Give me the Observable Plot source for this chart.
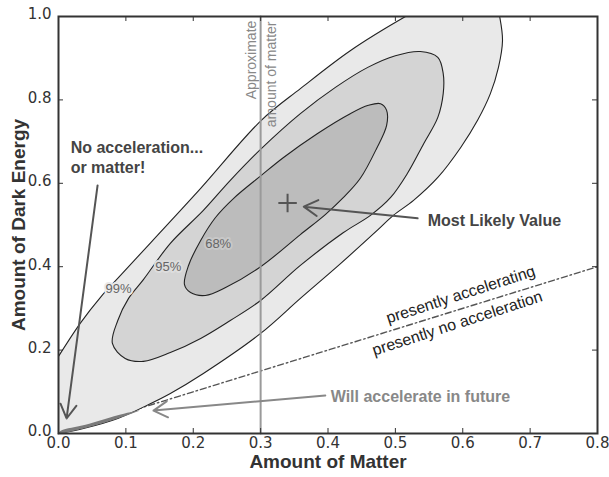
<!DOCTYPE html>
<html><head><meta charset="utf-8">
<script src="https://cdn.jsdelivr.net/npm/d3@7"></script>
<script src="https://cdn.jsdelivr.net/npm/@observablehq/plot@0.6"></script>
<style>body{margin:0;background:#fff}</style>
</head><body><div id="chart"></div>
<script>
const xTicks = [0, 0.1, 0.2, 0.3, 0.4, 0.5, 0.6, 0.7, 0.8];
const yTicks = [0, 0.2, 0.4, 0.6, 0.8, 1.0];

// 99% confidence contour (open path: starts on the y axis, ends at origin)
const contour99 = [
  [0.000,0.185],[0.033,0.266],[0.062,0.326],[0.092,0.379],[0.137,0.458],[0.211,0.588],
  [0.301,0.751],[0.359,0.827],[0.433,0.918],[0.515,1.000],[0.582,1.058],[0.626,1.072],
  [0.647,1.050],[0.655,0.998],[0.659,0.942],[0.653,0.878],[0.641,0.815],[0.622,0.751],
  [0.597,0.686],[0.563,0.614],[0.527,0.559],[0.497,0.523],[0.473,0.487],[0.419,0.408],
  [0.359,0.324],[0.300,0.240],[0.215,0.144],[0.166,0.096],[0.137,0.072],[0.088,0.036],
  [0.037,0.012],[0.000,0.000]
];
// 95% confidence contour (closed)
const contour95 = [
  [0.080,0.216],[0.088,0.271],[0.104,0.324],[0.126,0.369],[0.166,0.456],[0.215,0.535],
  [0.255,0.607],[0.301,0.683],[0.359,0.767],[0.411,0.830],[0.459,0.878],[0.500,0.906],
  [0.537,0.916],[0.563,0.902],[0.571,0.863],[0.571,0.815],[0.563,0.758],[0.542,0.695],
  [0.518,0.624],[0.493,0.566],[0.463,0.523],[0.423,0.482],[0.359,0.403],[0.300,0.319],
  [0.255,0.271],[0.211,0.228],[0.166,0.194],[0.126,0.173],[0.099,0.180]
];
// 68% confidence contour (closed)
const contour68 = [
  [0.187,0.357],[0.193,0.403],[0.211,0.463],[0.233,0.518],[0.260,0.564],[0.301,0.619],
  [0.334,0.662],[0.384,0.719],[0.433,0.767],[0.460,0.787],[0.478,0.791],[0.487,0.775],
  [0.487,0.739],[0.472,0.683],[0.448,0.612],[0.423,0.566],[0.396,0.525],[0.359,0.477],
  [0.300,0.400],[0.248,0.350],[0.218,0.331],[0.196,0.338]
];
// dark sliver near the origin ("will accelerate in future")
const sliver = [
  [0.000,0.000],[0.037,0.012],[0.088,0.036],[0.120,0.055],[0.088,0.044],[0.040,0.021],[0.004,0.007]
];
// boundary: accelerating vs not (Omega_L = Omega_M / 2)
const accelLine = [[0, 0], [0.8, 0.4]];
const matterLine = [[0.3, 0], [0.3, 1]];
const bestFit = [[0.34, 0.553]];

const contourLabels = [
  {x: 0.237, y: 0.456, t: "68%", halo: "#c8c8c8"},
  {x: 0.163, y: 0.400, t: "95%", halo: "#dddddd"},
  {x: 0.089, y: 0.348, t: "99%", halo: "#e9e9e9"}
];
const boldNotes = [
  {x: 0.018, y: 0.686, t: "No acceleration..."},
  {x: 0.018, y: 0.636, t: "or matter!"},
  {x: 0.548, y: 0.511, t: "Most Likely Value"}
];
const grayNotes = [{x: 0.404, y: 0.087, t: "Will accelerate in future"}];
const tiltNotes = [
  {x: 0.597, y: 0.333, t: "presently accelerating"},
  {x: 0.592, y: 0.264, t: "presently no acceleration"}
];
const vertNotes = [
  {x: 0.286, y: 0.990, t: "Approximate"},
  {x: 0.316, y: 0.988, t: "amount of matter"}
];
const darkArrows = [
  {x1: 0.058, y1: 0.595, x2: 0.012, y2: 0.036},
  {x1: 0.533, y1: 0.516, x2: 0.364, y2: 0.544}
];
const grayArrows = [{x1: 0.396, y1: 0.091, x2: 0.141, y2: 0.055}];

const W = 609, H = 477, mL = 58, mR = 12, mT = 16, mB = 44;
const pw = W - mL - mR, ph = H - mT - mB;
const sans = "Liberation Sans, Arial, sans-serif";

const chart = Plot.plot({
  width: W, height: H,
  marginLeft: mL, marginRight: mR, marginTop: mT, marginBottom: mB,
  style: {fontFamily: "DejaVu Sans, sans-serif", fontSize: "15px", color: "#333", background: "#fff"},
  x: {domain: [0, 0.8]},
  y: {domain: [0, 1]},
  marks: [
    Plot.line(accelLine, {x: d => d[0], y: d => d[1], stroke: "#555", strokeWidth: 1.4, strokeDasharray: "6,3,1.5,3"}),
    Plot.line(contour99, {x: d => d[0], y: d => d[1], fill: "#e9e9e9", stroke: "#222", strokeWidth: 1.1, curve: "catmull-rom", clip: true}),
    Plot.line(contour95, {x: d => d[0], y: d => d[1], fill: "#d4d4d4", stroke: "#222", strokeWidth: 1.1, curve: "catmull-rom-closed", clip: true}),
    Plot.line(contour68, {x: d => d[0], y: d => d[1], fill: "#bcbcbc", stroke: "#222", strokeWidth: 1.1, curve: "catmull-rom-closed", clip: true}),
    Plot.line(sliver, {x: d => d[0], y: d => d[1], fill: "#7a7a7a", stroke: "none", curve: "catmull-rom-closed", clip: true}),
    Plot.line(matterLine, {x: d => d[0], y: d => d[1], stroke: "#9a9a9a", strokeWidth: 2}),
    Plot.text(contourLabels, {x: "x", y: "y", text: "t", fill: "#666", stroke: "halo", strokeWidth: 4, fontSize: 13, fontFamily: sans}),
    Plot.text(vertNotes, {x: "x", y: "y", text: "t", rotate: -90, textAnchor: "end", fill: "#888", fontSize: 14, fontFamily: sans}),
    Plot.dot(bestFit, {x: d => d[0], y: d => d[1], symbol: "plus", r: 6, stroke: "#555", strokeWidth: 2}),
    Plot.arrow(darkArrows, {x1: "x1", y1: "y1", x2: "x2", y2: "y2", stroke: "#555", strokeWidth: 2, headLength: 12}),
    Plot.arrow(grayArrows, {x1: "x1", y1: "y1", x2: "x2", y2: "y2", stroke: "#888", strokeWidth: 2, headLength: 12}),
    Plot.text(boldNotes, {x: "x", y: "y", text: "t", textAnchor: "start", fill: "#444", fontWeight: "bold", fontSize: 16, fontFamily: sans}),
    Plot.text(grayNotes, {x: "x", y: "y", text: "t", textAnchor: "start", fill: "#888", fontWeight: "bold", fontSize: 16, fontFamily: sans}),
    Plot.text(tiltNotes, {x: "x", y: "y", text: "t", rotate: -18, fill: "#222", fontSize: 16, fontFamily: sans}),
    Plot.frame({stroke: "#333", strokeWidth: 2}),
    Plot.tickX(xTicks, {x: d => d, insetTop: ph - 5, stroke: "#333"}),
    Plot.tickX(xTicks, {x: d => d, insetBottom: ph - 5, stroke: "#333"}),
    Plot.tickY(yTicks, {y: d => d, insetRight: pw - 5, stroke: "#333"}),
    Plot.tickY(yTicks, {y: d => d, insetLeft: pw - 5, stroke: "#333"}),
    Plot.axisX({ticks: xTicks, tickFormat: d3.format(".1f"), tickSize: 0, tickPadding: 4, label: null}),
    Plot.axisY({ticks: yTicks, tickFormat: d3.format(".1f"), tickSize: 0, tickPadding: 7, dy: -2, label: null}),
    Plot.text(["Amount of Matter"], {frameAnchor: "bottom", dy: 34, fontWeight: "bold", fontSize: 19, fill: "#333", fontFamily: sans}),
    Plot.text(["Amount of Dark Energy"], {frameAnchor: "left", dx: -40, rotate: -90, textAnchor: "middle", fontWeight: "bold", fontSize: 19, fill: "#333", fontFamily: sans})
  ]
});
document.getElementById("chart").appendChild(chart);
</script>
</body></html>
